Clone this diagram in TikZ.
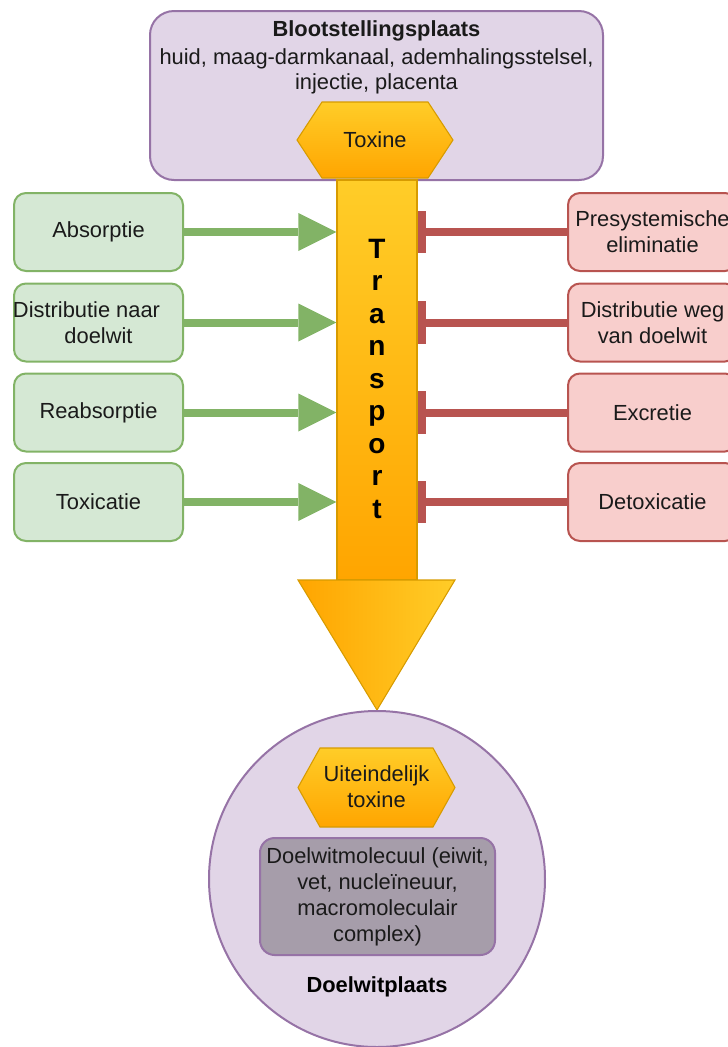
\documentclass[tikz,border=0pt]{standalone}
\usepackage{fontspec}
\setmainfont{Liberation Sans}
\usetikzlibrary{arrows.meta,shapes.geometric}
\definecolor{purpF}{HTML}{E1D5E7}
\definecolor{purpD}{HTML}{9673A6}
\definecolor{greenF}{HTML}{D5E8D4}
\definecolor{greenD}{HTML}{82B366}
\definecolor{redF}{HTML}{F8CECC}
\definecolor{redD}{HTML}{B85450}
\definecolor{yel}{HTML}{FFCD28}
\definecolor{ora}{HTML}{FFA500}
\definecolor{oraD}{HTML}{D79B00}
\definecolor{grayP}{HTML}{A69DAA}
\definecolor{txt}{HTML}{1A1A1A}
\begin{document}
\begin{tikzpicture}[x=0.75pt,y=-0.75pt,
  every node/.style={font=\fontsize{16.4}{19.5}\selectfont, text=txt, inner sep=0pt},
  gbox/.style={draw=greenD, fill=greenF, line width=1.5pt, rounded corners=9pt,
    minimum width=126.75pt, minimum height=58.5pt, align=center},
  rbox/.style={draw=redD, fill=redF, line width=1.5pt, rounded corners=9pt,
    minimum width=126.75pt, minimum height=58.5pt, align=center},
  garrow/.style={draw=greenD, line width=6pt, -{Triangle[length=28.5pt,width=28.5pt,line width=0pt]}},
  rbar/.style={draw=redD, line width=6pt, -{Rectangle[length=6pt,width=32pt,line width=0pt]}},
  hexa/.style={draw=oraD, line width=0.8pt, top color=yel, bottom color=ora},
  purp/.style={draw=purpD, fill=purpF, line width=1.5pt},
  tletter/.style={font=\bfseries\fontsize{21}{21}\selectfont, text=black, anchor=base},
]
\useasboundingbox (0,0) rectangle (728,1047);

% exposure site
\node[purp, rounded corners=18pt, minimum width=339.75pt, minimum height=126.75pt] (site) at (376.5,95.5) {};
\node[align=center, font=\fontsize{16.4}{18.75}\selectfont] (sitetxt) at (376.5,57.5)
  {\textbf{Blootstellingsplaats}\\[2.25pt]huid, maag-darmkanaal, ademhalingsstelsel,\\injectie, placenta};

% transport shaft
\node[draw=oraD, line width=0.8pt, top color=yel, bottom color=ora,
  minimum width=60pt, minimum height=300pt] (shaft) at (377,380) {};
\foreach \l [count=\i] in {T,r,a,n,s,p,o,r,t}
  \node[tletter] (tr\i) at (377,{258+32.5*(\i-1)}) {\l};

% arrow head
\path[draw=oraD, line width=0.8pt, left color=ora, right color=yel]
  (298,580) -- (455,580) -- (377,710) -- cycle;

% toxine hexagon
\path[hexa] (297,140) -- (322,102) -- (428,102) -- (453,140) -- (428,178) -- (322,178) -- cycle;
\node (toxine) at (375,140) {Toxine};

% left boxes
\node[gbox] (g1) at (98.5,232) {Absorptie};
\node[gbox] (g2) at (98.5,322.5) {\makebox[0pt]{\hspace*{-18pt}Distributie naar}\\doelwit};
\node[gbox] (g3) at (98.5,412.5) {Reabsorptie};
\node[gbox] (g4) at (98.5,502) {Toxicatie};

% right boxes
\node[rbox] (r1) at (652.5,232) {Presystemische\\eliminatie};
\node[rbox] (r2) at (652.5,322.5) {Distributie weg\\van doelwit};
\node[rbox] (r3) at (652.5,412.5) {Excretie};
\node[rbox] (r4) at (652.5,502) {Detoxicatie};

\foreach \k in {1,2,3,4} {
  \draw[garrow] (g\k.east) -- (g\k.east -| shaft.west);
  \draw[rbar] (r\k.west) -- (r\k.west -| shaft.east);
}

% target site
\node[purp, circle, minimum size=252pt] (target) at (377,879) {};
\path[hexa] (298,787.5) -- (320,748) -- (433,748) -- (455,787.5) -- (433,827) -- (320,827) -- cycle;
\node[align=center] (ult) at (376.5,787) {Uiteindelijk\\toxine};
\node[draw=purpD, fill=grayP, line width=1.5pt, rounded corners=11pt,
  minimum width=176.25pt, minimum height=87.75pt] (mol) at (377.5,896.5) {};
\node[align=center] (moltxt) at (377.5,897) {Doelwitmolecuul (eiwit,\\vet, nucleïneuur,\\macromoleculair\\complex)};
\node[font=\bfseries\fontsize{16.4}{19.5}\selectfont, text=black] (tlabel) at (377,987) {Doelwitplaats};
\end{tikzpicture}
\end{document}
